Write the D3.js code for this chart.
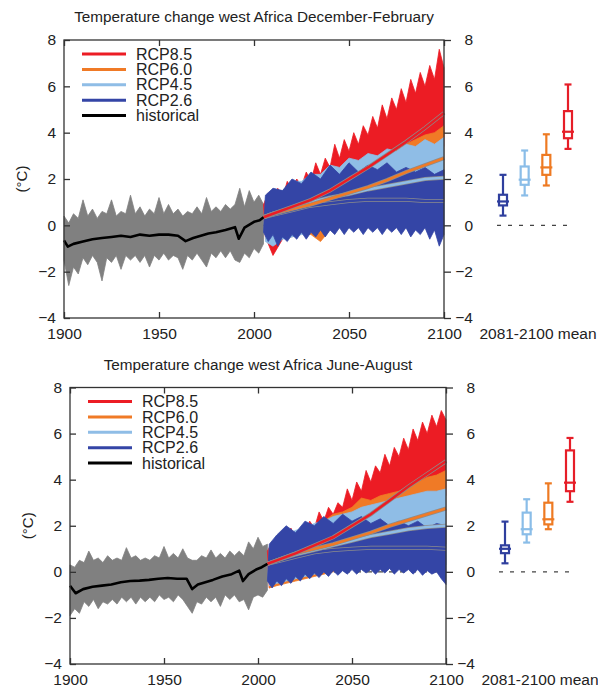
<!doctype html>
<html>
<head>
<meta charset="UTF-8">
<title>west Africa temperature change</title>
<script src="https://d3js.org/d3.v7.min.js"></script>
<style>
body{margin:0;background:#fff;}
text{font-family:"Liberation Sans", Arial, Helvetica, sans-serif; fill:#222;}
</style>
</head>
<body>
<svg width="598" height="690"></svg>
<script>
// ---- data ----
var scenarios = ["RCP2.6", "RCP4.5", "RCP6.0", "RCP8.5"];
var legendNames = ["RCP8.5", "RCP6.0", "RCP4.5", "RCP2.6", "historical"];
var yTicks = [-4, -2, 0, 2, 4, 6, 8];
var xTicks = [1900, 1950, 2000, 2050, 2100];

var histYears = [1900,1902.5,1905,1907.5,1910,1912.5,1915,1917.5,1920,1922.5,1925,1927.5,1930,1932.5,1935,1937.5,1940,1942.5,1945,1947.5,1950,1952.5,1955,1957.5,1960,1962.5,1965,1967.5,1970,1972.5,1975,1977.5,1980,1982.5,1985,1987.5,1990,1992.5,1995,1997.5,2000,2002.5,2005];
var futYears = [2006,2010,2015,2020,2025,2030,2035,2040,2045,2050,2055,2060,2065,2070,2075,2080,2085,2090,2095,2100];
var futFineYears = [2005,2007.5,2010,2012.5,2015,2017.5,2020,2022.5,2025,2027.5,2030,2032.5,2035,2037.5,2040,2042.5,2045,2047.5,2050,2052.5,2055,2057.5,2060,2062.5,2065,2067.5,2070,2072.5,2075,2077.5,2080,2082.5,2085,2087.5,2090,2092.5,2095,2097.5,2100];
var meanYears = [2005,2010,2020,2030,2040,2050,2060,2070,2080,2090,2100];

// December-February
var djfHistUpper = [0.4,0.1,0.5,0.3,1.1,0.4,0.7,0.3,0.6,0.5,1.1,0.4,0.6,0.5,1.3,0.5,0.8,0.4,0.7,0.5,1.2,0.5,0.9,0.5,0.7,0.4,0.6,0.5,0.8,0.5,1.2,0.6,0.8,0.6,0.9,0.7,0.9,1.6,0.8,1.5,1.0,1.3,0.9];
var djfHistLower = [-1.5,-2.6,-1.8,-2.1,-1.4,-1.7,-1.3,-1.6,-2.4,-1.4,-1.6,-1.3,-1.9,-1.3,-1.5,-1.3,-1.6,-1.3,-1.8,-1.3,-1.5,-1.2,-1.5,-1.3,-1.4,-1.9,-1.3,-1.5,-1.2,-1.5,-1.8,-1.2,-1.4,-1.1,-1.4,-1.1,-1.5,-1.6,-1.2,-1.4,-1.0,-1.2,-0.8];
var djfHistMeanYears = [1900,1902,1905,1910,1915,1920,1925,1930,1935,1940,1945,1950,1955,1960,1964,1968,1972,1976,1980,1985,1990,1992,1995,2000,2003,2005];
var djfHistMean = [-0.65,-0.92,-0.8,-0.7,-0.6,-0.55,-0.5,-0.45,-0.5,-0.4,-0.45,-0.4,-0.4,-0.45,-0.68,-0.55,-0.45,-0.35,-0.3,-0.2,-0.08,-0.58,-0.1,0.15,0.22,0.35];

var djf26Upper = [1.3,1.6,1.5,2.0,1.8,2.3,2.0,2.6,2.2,2.7,2.3,2.6,2.4,2.7,2.3,2.5,2.3,2.5,2.2,2.4];
var djf26Lower = [-0.3,-0.7,-0.4,-0.9,-0.5,-0.7,-0.4,-0.6,-0.3,-0.6,-0.3,-0.5,-0.2,-0.5,-0.2,-0.4,-0.1,-0.4,-0.1,-0.3,-0.1,-0.4,-0.1,-0.3,-0.1,-0.4,-0.1,-0.3,-0.1,-0.4,-0.1,-0.5,-0.2,-0.4,-0.1,-0.6,-0.2,-0.9,-0.4];
var djf45Upper = [1.2,1.5,1.5,1.9,1.9,2.2,2.2,2.6,2.5,2.9,2.8,3.1,3.0,3.3,3.2,3.5,3.4,3.7,3.5,3.8];
var djf45Lower = [-0.7,-0.9,-0.6,-0.5,-0.4,-0.3,-0.2,-0.2,0.0,-0.1,0.1,0.0,0.2,0.1,0.3,0.2,0.3,0.1,0.2,-0.2];
var djf60Upper = [1.0,1.3,1.4,1.6,1.7,1.9,2.0,2.2,2.3,2.5,2.6,2.8,3.0,3.1,3.3,3.5,3.7,3.9,4.0,4.3];
var djf60Lower = [-0.6,-0.5,-0.4,-0.5,-0.3,-0.4,-0.7,-0.2,-0.1,0.0,0.1,0.2,0.3,0.4,0.5,0.6,0.7,0.8,0.9,1.0];
var djf85Upper = [0.9,1.4,1.0,1.6,1.2,1.9,1.5,2.0,1.7,2.3,1.9,2.7,2.2,2.9,2.5,3.5,2.9,3.7,3.2,4.0,3.5,4.3,3.9,4.7,4.2,5.2,4.6,5.5,5.0,5.9,5.3,6.3,5.7,6.6,6.0,6.9,6.3,7.6,6.8];
var djf85Lower = [-0.5,-1.3,-0.6,-0.3,-0.1,0.1,0.3,0.5,0.8,1.0,1.3,1.5,1.8,2.0,2.3,2.5,2.8,3.0,3.2,3.4];

var djf26Mean = [0.35,0.45,0.65,0.85,0.95,1.05,1.1,1.1,1.1,1.05,1.05];
var djf45Mean = [0.35,0.5,0.75,1.0,1.2,1.35,1.55,1.7,1.85,2.0,2.05];
var djf60Mean = [0.35,0.5,0.7,0.9,1.15,1.4,1.65,1.95,2.3,2.6,2.9];
var djf85Mean = [0.35,0.5,0.8,1.1,1.5,2.0,2.5,3.05,3.6,4.2,4.85];

// box stats 2081-2100: whisker low, box low, median, box high, whisker high
var djfBox26 = [0.42,0.86,1.03,1.32,2.18];
var djfBox45 = [1.29,1.75,1.97,2.54,3.23];
var djfBox60 = [1.72,2.18,2.5,3.04,3.93];
var djfBox85 = [3.3,3.76,4.04,4.93,6.08];

// June-August
var jjaHistUpper = [0.3,0.2,0.5,0.4,0.9,0.5,0.6,0.4,0.7,0.5,0.6,0.5,1.05,0.6,0.7,0.5,0.6,0.5,0.7,0.6,1.1,0.6,0.8,0.6,1.0,0.6,0.5,0.5,0.7,0.6,0.95,0.6,0.8,0.6,0.9,0.7,0.9,0.7,1.3,1.0,1.5,1.1,1.2];
var jjaHistLower = [-1.9,-1.6,-1.8,-1.3,-1.5,-1.2,-1.6,-1.3,-1.4,-1.2,-1.4,-1.1,-1.3,-1.1,-1.4,-1.1,-1.3,-1.1,-1.3,-1.0,-1.2,-1.1,-1.3,-1.0,-1.2,-1.5,-1.8,-1.3,-1.4,-1.1,-1.3,-1.1,-1.5,-1.0,-1.2,-1.0,-1.3,-1.2,-1.65,-1.1,-1.0,-1.1,-0.8];
var jjaHistMeanYears = [1900,1903,1907,1912,1917,1922,1927,1932,1937,1942,1947,1952,1957,1962,1965,1968,1972,1976,1981,1986,1990,1992,1995,1999,2002,2005];
var jjaHistMean = [-0.6,-0.93,-0.75,-0.65,-0.6,-0.55,-0.45,-0.4,-0.38,-0.35,-0.3,-0.27,-0.3,-0.3,-0.75,-0.55,-0.45,-0.35,-0.2,-0.1,0.05,-0.4,-0.1,0.1,0.2,0.35];

var jja26Upper = [1.2,1.6,2.0,1.7,2.2,2.0,2.4,2.1,2.5,2.2,2.4,2.1,2.3,2.0,2.2,2.0,2.2,1.9,2.1,2.0];
var jja26Lower = [-0.4,-0.7,-0.4,-0.6,-0.3,-0.5,-0.2,-0.4,-0.1,-0.3,-0.05,-0.25,0.0,-0.2,0.05,-0.15,0.05,-0.1,0.1,-0.1,0.1,-0.05,0.1,-0.1,0.1,-0.05,0.15,-0.1,0.1,-0.05,0.1,-0.1,0.1,-0.15,0.05,-0.1,0.0,-0.3,-0.55];
var jja45Upper = [1.1,1.4,1.6,1.8,1.9,2.1,2.2,2.4,2.5,2.6,2.8,2.9,3.0,3.1,3.2,3.3,3.4,3.5,3.5,3.6];
var jja45Lower = [-0.6,-0.5,-0.4,-0.3,-0.2,-0.1,0.0,0.1,0.2,0.2,0.3,0.3,0.4,0.4,0.5,0.5,0.5,0.5,0.4,0.3];
var jja60Upper = [1.0,1.3,1.4,1.6,1.8,2.0,2.2,2.5,2.6,2.8,3.2,3.1,3.3,3.4,3.5,3.7,3.9,4.1,4.2,4.4];
var jja60Lower = [-0.7,-0.6,-0.5,-0.4,-0.3,-0.2,-0.1,0.0,0.1,0.2,0.3,0.4,0.5,0.6,0.7,0.8,0.9,1.0,1.1,1.2];
var jja85Upper = [0.9,1.3,1.0,1.5,1.2,1.9,1.4,1.8,1.6,2.2,1.9,2.6,2.2,2.8,2.5,3.0,2.8,3.6,3.1,3.9,3.5,4.4,3.9,4.6,4.3,5.1,4.6,5.4,5.0,5.8,5.3,6.2,5.7,6.5,6.0,6.8,6.3,7.0,6.6];
var jja85Lower = [-0.7,-0.5,-0.4,-0.2,0.0,0.2,0.4,0.6,0.8,1.0,1.3,1.5,1.8,2.1,2.3,2.6,2.8,3.0,3.2,3.3];

var jja26Mean = [0.35,0.45,0.65,0.85,0.95,1.0,1.05,1.05,1.05,1.05,1.0];
var jja45Mean = [0.35,0.5,0.75,0.95,1.15,1.35,1.55,1.7,1.85,1.95,2.0];
var jja60Mean = [0.35,0.5,0.8,1.0,1.2,1.45,1.7,2.0,2.25,2.5,2.75];
var jja85Mean = [0.35,0.5,0.8,1.15,1.5,2.0,2.5,3.1,3.7,4.25,4.8];

var jjaBox26 = [0.37,0.81,1.0,1.15,2.18];
var jjaBox45 = [1.27,1.63,1.85,2.57,3.15];
var jjaBox60 = [1.85,2.06,2.28,3.0,3.84];
var jjaBox85 = [3.04,3.5,3.87,5.27,5.81];

// ---- styling ----
var colors = {"RCP8.5":"#ec1c24", "RCP6.0":"#f07a26", "RCP4.5":"#8fbde6", "RCP2.6":"#3445a6", "historical":"#000"};
var boxColors = {"RCP8.5":"#e61e28", "RCP6.0":"#ee7a22", "RCP4.5":"#8abde8", "RCP2.6":"#2f3f9e"};
var histGray = "#808080";

function env(upYears, up, loYears, lo){ return {upYears:upYears, up:up, loYears:loYears, lo:lo}; }

var panels = [
  {title:"Temperature change west Africa December-February", left:64, top:40, w:380, h:278,
   hist:env(histYears, djfHistUpper, histYears, djfHistLower), histMeanYears:djfHistMeanYears, histMean:djfHistMean,
   env:{"RCP2.6":env(futYears, djf26Upper, futFineYears, djf26Lower),
        "RCP4.5":env(futYears, djf45Upper, futYears, djf45Lower),
        "RCP6.0":env(futYears, djf60Upper, futYears, djf60Lower),
        "RCP8.5":env(futFineYears, djf85Upper, futYears, djf85Lower)},
   mean:{"RCP2.6":djf26Mean,"RCP4.5":djf45Mean,"RCP6.0":djf60Mean,"RCP8.5":djf85Mean},
   box:{"RCP2.6":djfBox26,"RCP4.5":djfBox45,"RCP6.0":djfBox60,"RCP8.5":djfBox85}},
  {title:"Temperature change west Africa June-August", left:70, top:387.5, w:376, h:276.5,
   hist:env(histYears, jjaHistUpper, histYears, jjaHistLower), histMeanYears:jjaHistMeanYears, histMean:jjaHistMean,
   env:{"RCP2.6":env(futYears, jja26Upper, futFineYears, jja26Lower),
        "RCP4.5":env(futYears, jja45Upper, futYears, jja45Lower),
        "RCP6.0":env(futYears, jja60Upper, futYears, jja60Lower),
        "RCP8.5":env(futFineYears, jja85Upper, futYears, jja85Lower)},
   mean:{"RCP2.6":jja26Mean,"RCP4.5":jja45Mean,"RCP6.0":jja60Mean,"RCP8.5":jja85Mean},
   box:{"RCP2.6":jjaBox26,"RCP4.5":jjaBox45,"RCP6.0":jjaBox60,"RCP8.5":jjaBox85}}
];

var svg = d3.select("svg");
panels.forEach(drawPanel);

function pts(years, vals){
  return years.map(function(yr, i){ return {year:yr, v:vals[i]}; });
}

function drawPanel(p){
  var g = svg.append("g").attr("transform", "translate(" + p.left + "," + p.top + ")");
  var x = d3.scaleLinear().domain([1900, 2100]).range([0, p.w]);
  var y = d3.scaleLinear().domain([-4, 8]).range([p.h, 0]);

  var line = d3.line().x(function(d){ return x(d.year); }).y(function(d){ return y(d.v); });
  // envelope polygon: upper edge forward, lower edge back
  function envPath(e){
    var ring = pts(e.upYears, e.up).concat(pts(e.loYears, e.lo).reverse());
    return line(ring) + "Z";
  }

  // zero line
  g.append("line").attr("x1", x(1900)).attr("x2", x(2100)).attr("y1", y(0)).attr("y2", y(0))
    .attr("stroke", "#444").attr("stroke-width", 1.2).attr("stroke-dasharray", "5,6");

  // historical ensemble
  g.append("path").attr("d", envPath(p.hist))
    .attr("fill", histGray).attr("stroke", histGray).attr("stroke-width", 0.8).attr("stroke-linejoin", "round");

  // future ensembles, high scenario at the back
  ["RCP8.5", "RCP6.0", "RCP4.5", "RCP2.6"].forEach(function(s){
    g.append("path").attr("d", envPath(p.env[s]))
      .attr("fill", colors[s]).attr("stroke", colors[s]).attr("stroke-width", 0.8).attr("stroke-linejoin", "round");
  });

  // ensemble means, gray edged
  ["RCP2.6", "RCP4.5", "RCP6.0", "RCP8.5"].forEach(function(s){
    var d = pts(meanYears, p.mean[s]);
    g.append("path").datum(d).attr("d", line).attr("fill", "none")
      .attr("stroke", "#8c8c8c").attr("stroke-width", 4);
    g.append("path").datum(d).attr("d", line).attr("fill", "none")
      .attr("stroke", colors[s]).attr("stroke-width", 2.5);
  });

  g.append("path").datum(pts(p.histMeanYears, p.histMean)).attr("d", line).attr("fill", "none")
    .attr("stroke", "#000").attr("stroke-width", 2.6).attr("stroke-linejoin", "round");

  // frame
  g.append("rect").attr("width", p.w).attr("height", p.h).attr("fill", "none")
    .attr("stroke", "#333").attr("stroke-width", 1.3);

  // axes
  var fs = "15.5px";
  var left = g.append("g").call(d3.axisLeft(y).tickValues(yTicks).tickSize(-6).tickPadding(8));
  var right = g.append("g").attr("transform", "translate(" + p.w + ",0)")
    .call(d3.axisRight(y).tickValues(yTicks).tickSize(7).tickPadding(4));
  right.selectAll("text").attr("x", 29).attr("text-anchor", "end");
  var bottom = g.append("g").attr("transform", "translate(0," + p.h + ")")
    .call(d3.axisBottom(x).tickValues(xTicks).tickFormat(d3.format("d")).tickSize(-6).tickPadding(10));
  var top = g.append("g").call(d3.axisTop(x).tickValues(xTicks).tickSize(-6).tickFormat(""));
  [left, right, bottom, top].forEach(function(a){
    a.select(".domain").remove();
    a.selectAll("line").attr("stroke", "#333").attr("stroke-width", 1.3);
    a.selectAll("text").attr("font-family", null).style("font-size", fs).attr("fill", "#222");
  });

  // y label
  g.append("text").attr("transform", "translate(-42," + (p.h / 2) + ") rotate(-90)")
    .attr("text-anchor", "middle").attr("dy", "0.35em").style("font-size", "15px").text("(°C)");

  // title
  g.append("text").attr("x", p.w / 2).attr("y", -18).attr("text-anchor", "middle")
    .style("font-size", "15.3px").text(p.title);

  // legend
  legendNames.forEach(function(n, i){
    var ly = 14 + i * 15.4;
    g.append("line").attr("x1", 18).attr("x2", 62).attr("y1", ly).attr("y2", ly)
      .attr("stroke", colors[n]).attr("stroke-width", 3);
    g.append("text").attr("x", 72).attr("y", ly).attr("dy", "0.35em")
      .style("font-size", "16px").text(n);
  });

  // 2081-2100 box plots
  var bx = d3.scalePoint().domain(scenarios).range([p.w + 59, p.w + 124]);
  g.append("line").attr("x1", p.w + 53).attr("x2", p.w + 129).attr("y1", y(0)).attr("y2", y(0))
    .attr("stroke", "#444").attr("stroke-width", 1.2).attr("stroke-dasharray", "4,7");
  scenarios.forEach(function(s){
    var b = p.box[s], cx = bx(s), c = boxColors[s];
    var bg = g.append("g").attr("stroke", c).attr("stroke-width", 2.2).attr("fill", "none");
    bg.append("line").attr("x1", cx).attr("x2", cx).attr("y1", y(b[0])).attr("y2", y(b[1]));
    bg.append("line").attr("x1", cx).attr("x2", cx).attr("y1", y(b[3])).attr("y2", y(b[4]));
    bg.append("line").attr("x1", cx - 3.5).attr("x2", cx + 3.5).attr("y1", y(b[0])).attr("y2", y(b[0]));
    bg.append("line").attr("x1", cx - 3.5).attr("x2", cx + 3.5).attr("y1", y(b[4])).attr("y2", y(b[4]));
    bg.append("rect").attr("x", cx - 4).attr("width", 8).attr("y", y(b[3])).attr("height", y(b[1]) - y(b[3]));
    bg.append("line").attr("x1", cx - 6).attr("x2", cx + 6).attr("y1", y(b[2])).attr("y2", y(b[2]));
  });
  g.append("text").attr("x", p.w + 94).attr("y", p.h + 21).attr("text-anchor", "middle")
    .style("font-size", "15.5px").text("2081-2100 mean");
}
</script>
</body>
</html>
